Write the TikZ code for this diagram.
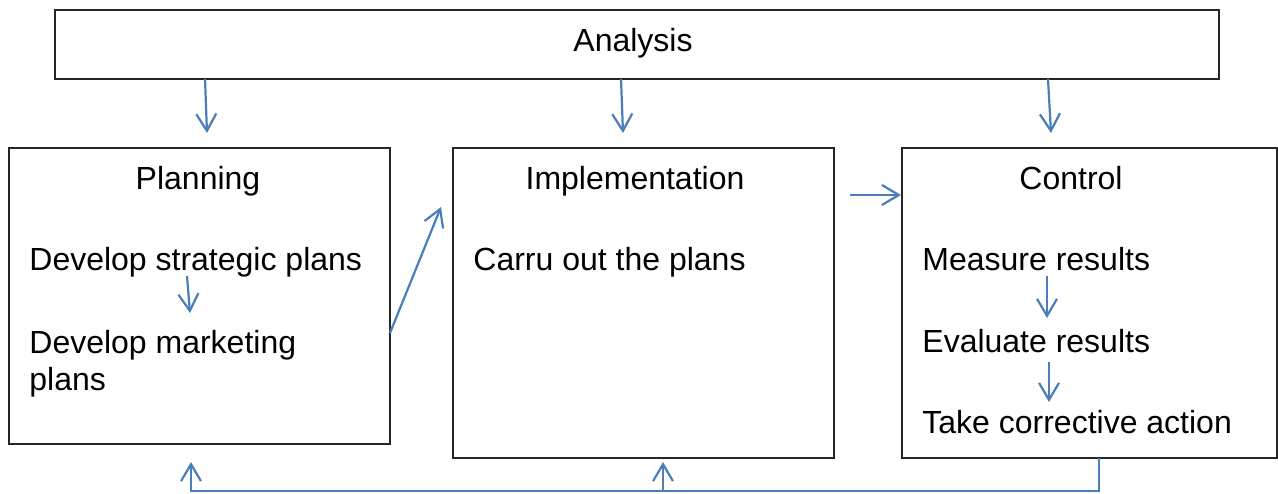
\documentclass[tikz,border=0pt]{standalone}
\usepackage{fontspec}
\setmainfont{Liberation Sans}
\usetikzlibrary{arrows.meta}
\definecolor{flowblue}{HTML}{4A7EBB}

\begin{document}
\begin{tikzpicture}[x=0.5pt, y=-0.5pt,
        box/.style={draw=black!85, line width=0.8pt, inner sep=0pt},
        flow/.style={-{Straight Barb[length=8.5pt, width=10pt]}, flowblue, line width=1.1pt},
        every node/.style={font=\fontsize{16}{18.5}\selectfont, inner sep=0pt}]
        \useasboundingbox (0,0) rectangle (1278,493);

        % The boxes
        \node[box, minimum width=582pt, minimum height=34.5pt] (analysis) at (637,44.5) {};
        \node[box, minimum width=190.5pt, minimum height=148pt] (planning) at (199.5,296) {};
        \node[box, minimum width=190.5pt, minimum height=155pt] (implementation) at (643.5,303) {};
        \node[box, minimum width=187.5pt, minimum height=155pt] (control) at (1089.5,303) {};

        % The titles
        \node[anchor=base] (analysistitle) at (633,51) {Analysis};
        \node[anchor=base] (planningtitle) at (198,189) {Planning};
        \node[anchor=base] (impltitle) at (635,189) {Implementation};
        \node[anchor=base] (controltitle) at (1071,189) {Control};

        % The steps
        \node[anchor=base west] (strategic) at (29,270) {Develop strategic plans};
        \node[anchor=base west, align=left] (marketing) at (29,390) {Develop marketing\\plans};
        \node[anchor=base west] (carry) at (473,270) {Carru out the plans};
        \node[anchor=base west] (measure) at (922,270) {Measure results};
        \node[anchor=base west] (evaluate) at (922,352) {Evaluate results};
        \node[anchor=base west] (corrective) at (922,433) {Take corrective action};

        % Arrow ends
        \coordinate (a1) at (205,79);  \coordinate (b1) at (207,133);
        \coordinate (a2) at (621,79);  \coordinate (b2) at (623,133);
        \coordinate (a3) at (1048,79); \coordinate (b3) at (1051,133);
        \coordinate (pl) at (390,333); \coordinate (im) at (441,207);
        \coordinate (ic) at (850,195); \coordinate (co) at (901,195);
        \coordinate (s1) at (187,276); \coordinate (s2) at (190,313);
        \coordinate (m1) at (1047,276); \coordinate (m2) at (1047,318);
        \coordinate (e1) at (1049,362); \coordinate (e2) at (1049,402);

        % From the analysis
        \draw[flow] (a1) -- (b1);
        \draw[flow] (a2) -- (b2);
        \draw[flow] (a3) -- (b3);

        % Between the boxes
        \draw[flow] (pl) -- (im);
        \draw[flow] (ic) -- (co);

        % Inside the boxes
        \draw[flow] (s1) -- (s2);
        \draw[flow] (m1) -- (m2);
        \draw[flow] (e1) -- (e2);

        % The feedback loop
        \coordinate (fb0) at (1099,458);
        \coordinate (fb1) at (1099,491);
        \coordinate (fb2) at (191,491);
        \coordinate (fb3) at (191,462);
        \coordinate (fb4) at (663,491);
        \coordinate (fb5) at (663,462);
        \draw[flow] (fb0) -- (fb1) -- (fb2) -- (fb3);
        \draw[flow] (fb4) -- (fb5);

    \end{tikzpicture}
\end{document}
